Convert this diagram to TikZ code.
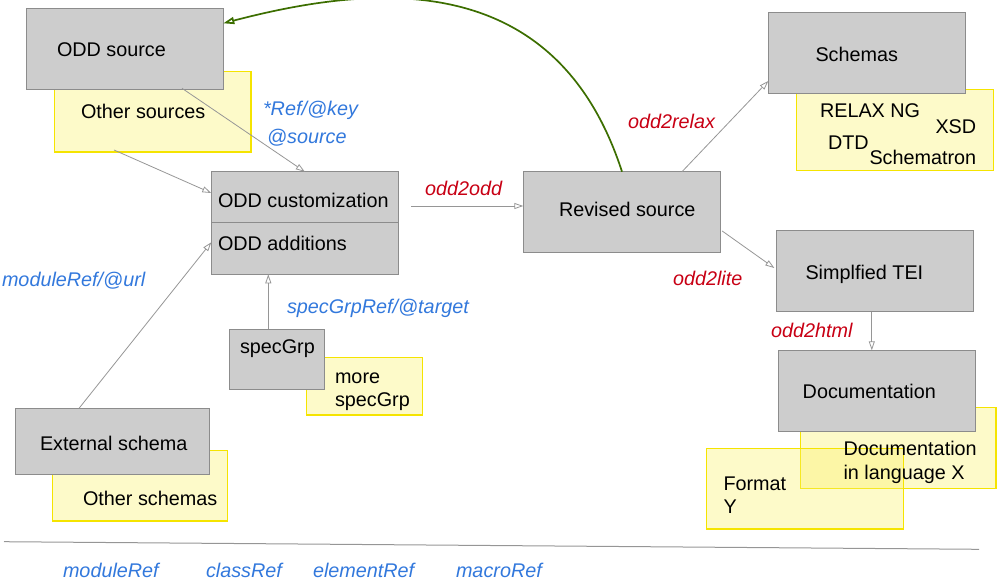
\documentclass[tikz,border=0pt]{standalone}
\usepackage{fontspec}
\setmainfont{Liberation Sans}
\usetikzlibrary{arrows.meta,calc}
\definecolor{boxgray}{RGB}{205,205,205}
\definecolor{boxborder}{RGB}{140,140,140}
\definecolor{ylwborder}{RGB}{245,228,0}
\definecolor{ylwfill}{RGB}{250,240,100}
\definecolor{refblue}{RGB}{50,120,220}
\definecolor{xslred}{RGB}{200,0,20}
\definecolor{curvegreen}{RGB}{60,110,0}
\definecolor{arrowgray}{RGB}{150,150,150}
\begin{document}
\begin{tikzpicture}[x=1pt,y=-1pt,
  gbox/.style={draw=boxborder, fill=boxgray, line width=0.9pt, inner sep=0pt, outer sep=0pt},
  ybox/.style={draw=ylwborder, line width=1.2pt, fill=ylwfill, fill opacity=0.35, inner sep=0pt, outer sep=0pt},
  txt/.style={anchor=base west, inner sep=0pt, outer sep=0pt, font=\fontsize{19.8}{23.5}\selectfont},
  bluelbl/.style={txt, text=refblue, font=\fontsize{19.8}{23.5}\selectfont\itshape},
  redlbl/.style={txt, text=xslred, font=\fontsize{19.8}{23.5}\selectfont\itshape},
  conn/.style={draw=arrowgray, line width=0.8pt, -{Triangle[open,length=9pt,width=6pt]}},
  backarrow/.style={draw=curvegreen, line width=1.7pt, -{Triangle[open,length=11pt,width=7pt]}},
  seprule/.style={draw=arrowgray, line width=1pt}
]
\useasboundingbox (0,0) rectangle (998,581);

% yellow boxes (below)
\node[ybox, minimum width=196.3pt, minimum height=80.3pt] (othsrc) at (152.8,111.8) {};
\node[ybox, minimum width=196.6pt, minimum height=80.6pt] (schY) at (895,130) {};
\node[ybox, minimum width=195.5pt, minimum height=81pt] (langX) at (898.3,447.8) {};
\node[ybox, minimum width=196.6pt, minimum height=80.7pt] (fmtY) at (805,488.7) {};
\node[ybox, minimum width=174.6pt, minimum height=70.3pt] (othsch) at (140,485.8) {};
\node[ybox, minimum width=115.6pt, minimum height=57.3pt] (morespec) at (364.5,386.3) {};

% gray boxes
\node[gbox, minimum width=197pt, minimum height=81pt] (oddsrc) at (124.8,48.8) {};
\node[gbox, minimum width=187pt, minimum height=50.6pt] (cust) at (304.8,197) {};
\node[gbox, minimum width=187pt, minimum height=52pt] (adds) at (304.8,248.3) {};
\node[gbox, minimum width=197.4pt, minimum height=80.6pt] (rev) at (622,212) {};
\node[gbox, minimum width=197.4pt, minimum height=81pt] (schemas) at (867,52.8) {};
\node[gbox, minimum width=197pt, minimum height=81.4pt] (simp) at (874.8,271) {};
\node[gbox, minimum width=197pt, minimum height=81pt] (doc) at (876.8,390.8) {};
\node[gbox, minimum width=194pt, minimum height=65.7pt] (ext) at (112.3,441.2) {};
\node[gbox, minimum width=95pt, minimum height=60pt] (spec) at (276.8,359.3) {};

% box texts
\node[txt] (toddsrc) at (57,56) {ODD source};
\node[txt] (tothsrc) at (81,118) {Other sources};
\node[txt] (tcust) at (218,207) {ODD customization};
\node[txt] (tadds) at (218,250) {ODD additions};
\node[txt] (trev) at (559,216.5) {Revised source};
\node[txt] (tschemas) at (815.5,61.5) {Schemas};
\node[txt] (trng) at (820,117.7) {RELAX NG};
\node[txt] (txsd) at (935.5,133.7) {XSD};
\node[txt] (tdtd) at (828,149) {DTD};
\node[txt] (tsch) at (869.5,164) {Schematron};
\node[txt] (tsimp) at (805.5,279.3) {Simplfied TEI};
\node[txt] (tdoc) at (802.7,398.3) {Documentation};
\node[txt] (tlx1) at (843.5,455.7) {Documentation};
\node[txt] (tlx2) at (843.5,479.3) {in language X};
\node[txt] (tfy1) at (723.5,490) {Format};
\node[txt] (tfy2) at (723.5,513.3) {Y};
\node[txt] (text) at (40,450.7) {External schema};
\node[txt] (tothsch) at (83,505) {Other schemas};
\node[txt] (tspec) at (240,353.3) {specGrp};
\node[txt] (tmore1) at (335,383.3) {more};
\node[txt] (tmore2) at (335,406.7) {specGrp};

% connector labels
\node[bluelbl] (lkey) at (263,115) {*Ref/@key};
\node[bluelbl] (lsource) at (267,143) {@source};
\node[redlbl] (lodd) at (425,195) {odd2odd};
\node[bluelbl] (lurl) at (2,286) {moduleRef/@url};
\node[bluelbl] (ltarget) at (287,313) {specGrpRef/@target};
\node[redlbl] (lrelax) at (628,128.3) {odd2relax};
\node[redlbl] (llite) at (673,285) {odd2lite};
\node[redlbl] (lhtml) at (771,337.3) {odd2html};

% connectors
\draw[conn] ($(othsrc.south west)+(59.3,-2)$) -- ($(cust.west)+(0,-4)$);
\draw[conn] ($(oddsrc.south west)+(155.7,-1)$) -- (cust.north);
\draw[conn] ($(cust.east)+(13,9)$) -- ($(rev.west)+(0,-6)$);
\draw[conn] ($(ext.north west)+(63.7,0)$) -- ($(adds.west)+(0,-6)$);
\coordinate (sgtop) at ($(spec.north west)+(39,0)$);
\draw[conn] (sgtop) -- (sgtop |- adds.south);
\draw[conn] ($(rev.north west)+(158.7,0)$) -- ($(schemas.west)+(0,28.2)$);
\draw[conn] ($(rev.east)+(1.5,19)$) -- ($(simp.west)+(-2,-3)$);
\coordinate (simpbot) at ($(simp.south)+(-3,0)$);
\draw[conn] (simpbot) -- (simpbot |- doc.north);
\draw[backarrow] (rev.north) .. controls (555,-35) and (370,-15) .. ($(oddsrc.east)+(0,-25.5)$);

% separator and element list
\draw[seprule] (4,541.7) -- (979,549.3);
\node[bluelbl] (lmod) at (63,577.3) {moduleRef};
\node[bluelbl] (lcls) at (206,577.3) {classRef};
\node[bluelbl] (lelt) at (313,577.3) {elementRef};
\node[bluelbl] (lmac) at (456,577.3) {macroRef};
\end{tikzpicture}
\end{document}
